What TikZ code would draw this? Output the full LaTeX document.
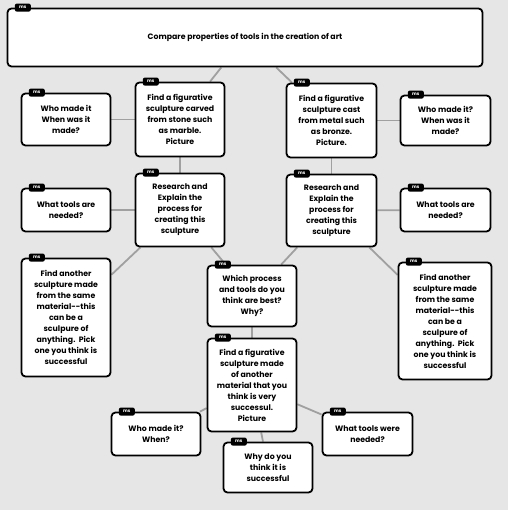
\documentclass[tikz,border=0pt]{standalone}
\usepackage{fontspec}
\setmainfont{Poppins}
\usetikzlibrary{positioning,backgrounds}
\definecolor{bggray}{HTML}{E6E6E6}
\definecolor{linkgray}{HTML}{A0A0A0}

\begin{document}
\begin{tikzpicture}[x=1pt, y=-1pt,
  box/.style={draw, line width=1.8pt, rounded corners=4pt, fill=white, align=center,
    inner sep=2pt, minimum width=89pt, font=\fontsize{7.8}{11}\selectfont\bfseries},
  tag/.style={fill=black, rounded corners=2pt, text=white, inner sep=0pt,
    minimum width=16pt, minimum height=8pt, font=\fontsize{4.5}{4.5}\selectfont\bfseries},
  link/.style={draw=linkgray, line width=1.8pt}]
  \useasboundingbox (0,0) rectangle (508,510);
  % Nodes
  \node [box, minimum width=475pt, minimum height=58pt] (root) at (245,37.5)
    {Compare properties of tools in the creation of art};
  \node [box, minimum height=74pt] (stone) at (180,119.5)
    {Find a figurative\\sculpture carved\\from stone such\\as marble.\\Picture};
  \node [box, minimum height=52pt] (who1) at (66,119.5) {Who made it\\When was it\\made?};
  \node [box, minimum width=90pt, minimum height=74pt] (metal) at (331.5,120.5)
    {Find a figurative\\sculpture cast\\from metal such\\as bronze.\\Picture.};
  \node [box, minimum width=90pt, minimum height=50pt] (who2) at (445.5,120.5)
    {Who made it?\\When was it\\made?};
  \node [box, minimum height=73pt] (research1) at (180,210)
    {Research and\\Explain the\\process for\\creating this\\sculpture};
  \node [box, minimum height=43pt] (tools1) at (66,210) {What tools are\\needed?};
  \node [box, minimum height=118pt] (another1) at (66,317.5)
    {Find another\\sculpture made\\from the same\\material-{}-this\\can be a\\sculpure of\\anything.\ \ Pick\\one you think is\\successful};
  \node [box, minimum width=90pt, minimum height=72pt] (research2) at (331.5,210.5)
    {Research and\\Explain the\\process for\\creating this\\sculpture};
  \node [box, minimum width=90pt, minimum height=43pt] (tools2) at (445.5,210) {What tools are\\needed?};
  \node [box, minimum width=93pt, minimum height=117pt] (another2) at (445,321)
    {Find another\\sculpture made\\from the same\\material-{}-this\\can be a\\sculpure of\\anything.\ \ Pick\\one you think is\\successful};
  \node [box, minimum height=61pt] (which) at (252,296)
    {Which process\\and tools do you\\think are best?\\Why?};
  \node [box, minimum height=93pt] (othermat) at (252,385)
    {Find a figurative\\sculpture made\\of another\\material that you\\think is very\\successul.\\Picture};
  \node [box, minimum height=43pt] (who3) at (156,434) {Who made it?\\When?};
  \node [box, minimum height=50pt] (why) at (268,467.5) {Why do you\\think it is\\successful};
  \node [box, minimum width=90pt, minimum height=43pt] (tools3) at (367.5,434) {What tools were\\needed?};
  % Tags
  \foreach \n in {root,stone,who1,metal,who2,research1,tools1,another1,research2,
                  tools2,another2,which,othermat,who3,why,tools3}
    \node [tag, anchor=west] (\n-ms) at ([xshift=8pt]\n.north west) {ms};
  % Links
  \begin{scope}[on background layer]
    \fill [bggray] (0,0) rectangle (508,510);
    \draw [link] (root) -- (stone);
    \draw [link] (root) -- (metal);
    \draw [link] (stone) -- (who1);
    \draw [link] (stone) -- (research1);
    \draw [link] (metal) -- (who2);
    \draw [link] (metal) -- (research2);
    \draw [link] (research1) -- (tools1);
    \draw [link] (research1) -- (another1);
    \draw [link] (research2) -- (tools2);
    \draw [link] (research2) -- (another2);
    \draw [link] (research1) -- (which);
    \draw [link] (research2) -- (which);
    \draw [link] (which) -- (othermat);
    \draw [link] (othermat) -- (who3);
    \draw [link] (othermat) -- (why);
    \draw [link] (othermat) -- (tools3);
  \end{scope}
\end{tikzpicture}
\end{document}
